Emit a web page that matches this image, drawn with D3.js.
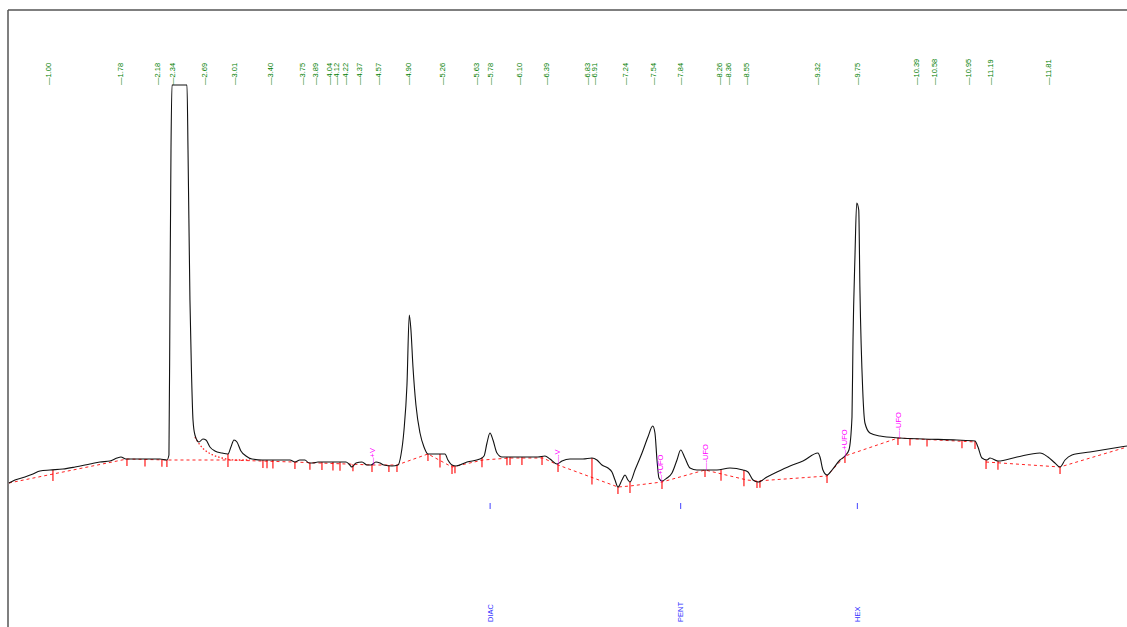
<!DOCTYPE html>
<html>
<head>
<meta charset="utf-8">
<script src="https://cdn.jsdelivr.net/npm/d3@7"></script>
<style>
  html, body { margin: 0; padding: 0; background: #fff; }
  svg { display: block; }
  text { font-family: "Liberation Sans", Arial, sans-serif; }
</style>
</head>
<body>
<svg id="chart" width="1127" height="627"></svg>
<script>
// detector trace, time in minutes / signal in mV
const traceTime = [0.578, 0.643, 0.751, 0.838, 0.914, 1.022, 1.162, 1.292, 1.454, 1.562, 1.670, 1.746, 1.789, 1.843,
  2.103, 2.211, 2.286, 2.308, 2.319, 2.330, 2.341, 2.427, 2.503, 2.514, 2.535, 2.551, 2.568, 2.589, 2.632, 2.676,
  2.708, 2.751, 2.805, 2.881, 2.946, 2.978, 3.011, 3.043, 3.086, 3.141, 3.205, 3.314, 3.616, 3.670, 3.724, 3.778,
  3.822, 3.865, 3.919, 4.103, 4.222, 4.254, 4.286, 4.330, 4.395, 4.449, 4.492, 4.546, 4.589, 4.632, 4.719, 4.784,
  4.816, 4.849, 4.881, 4.906, 4.924, 4.946, 4.978, 5.022, 5.065, 5.108, 5.292, 5.324, 5.368, 5.411, 5.530, 5.670,
  5.714, 5.746, 5.778, 5.811, 5.854, 5.908, 6.103, 6.297, 6.373, 6.427, 6.503, 6.557, 6.643, 6.784, 6.881, 6.935,
  6.989, 7.054, 7.097, 7.130, 7.162, 7.205, 7.238, 7.270, 7.292, 7.346, 7.422, 7.486, 7.538, 7.562, 7.584, 7.605,
  7.638, 7.692, 7.746, 7.800, 7.840, 7.886, 7.941, 8.016, 8.232, 8.373, 8.514, 8.568, 8.622, 8.676, 8.773, 8.881,
  9.022, 9.162, 9.324, 9.346, 9.378, 9.422, 9.476, 9.562, 9.616, 9.659, 9.692, 9.703, 9.724, 9.743, 9.765, 9.778,
  9.808, 9.832, 9.886, 9.995, 10.211, 10.459, 10.827, 11.022, 11.054, 11.097, 11.151, 11.184, 11.270, 11.476,
  11.724, 11.811, 11.886, 11.941, 11.995, 12.070, 12.265, 12.665]
const traceValue = [-3, 0, 3, 6, 9, 10, 11, 13, 16, 18, 19, 22, 23, 21,
  21, 21, 20, 25, 180, 330, 420, 600, 420, 330, 180, 110, 60, 45, 38, 41,
  40, 33, 29, 27, 26, 33, 40, 38, 29, 24, 21, 20, 20, 18, 20, 20,
  17, 17, 18, 18, 18, 16, 13, 17, 18, 15, 15, 18, 17, 15, 14, 15,
  25, 50, 95, 165, 150, 113, 75, 47, 33, 26, 26, 20, 15, 14, 18, 21,
  24, 37, 47, 40, 27, 23, 23, 23, 24, 21, 16, 19, 21, 21, 22, 20,
  15, 12, 8, 0, -7, 0, 5, 0, -2, 10, 27, 43, 54, 47, 20, 2,
  -1, 2, 7, 20, 30, 22, 12, 10, 10, 12, 10, 8, 0, -2, 3, 8,
  14, 19, 27, 23, 10, 5, 10, 20, 24, 30, 63, 140, 223, 277, 270, 190,
  90, 57, 47, 44, 42, 41, 40, 39, 33, 22, 20, 22, 19, 23,
  27, 23, 17, 13, 20, 25, 28, 34]

// integration baseline (two drawn segments) and the tail skim of the solvent peak
const baseTime1 = [0.578, 1.854, 2.292, 2.946, 3.649, 4.514, 4.773, 5.108, 5.368, 5.703, 5.995, 6.351, 6.514,
  7.162, 7.292, 7.638, 8.103, 8.557, 8.665, 9.422, 9.616, 10.189, 11.032]
const baseValue1 = [-3, 21, 20, 20, 18, 15, 15, 26, 13, 20, 22, 22, 15,
  -7, -6, -2, 10, 0, -1, 4, 24, 42, 38]
const baseTime2 = [11.141, 11.941, 12.665]
const baseValue2 = [18, 13, 33]
const skimTime = [2.589, 2.643, 2.708, 2.784, 2.881, 3.022, 3.184]
const skimValue = [43, 35, 29, 25, 22, 20, 20]

// peak start / end markers
const markTimes = [1.054, 1.854, 2.049, 2.232, 2.286, 2.946, 3.324, 3.368, 3.432, 3.670, 3.832, 3.962, 4.081,
  4.157, 4.297, 4.503, 4.686, 4.773, 5.108, 5.238, 5.368, 5.400, 5.692, 5.962, 5.995, 6.124, 6.341, 6.514,
  6.881, 7.162, 7.292, 7.638, 8.103, 8.276, 8.524, 8.665, 8.697, 9.422, 9.616, 10.189, 10.319, 10.503,
  10.881, 11.022, 11.141, 11.270, 11.941]

// retention time labels
const rtLabels = [1.00, 1.78, 2.18, 2.34, 2.69, 3.01, 3.40, 3.75, 3.89, 4.04, 4.12, 4.22, 4.37, 4.57, 4.90, 5.26,
  5.63, 5.78, 6.10, 6.39, 6.83, 6.91, 7.24, 7.54, 7.84, 8.26, 8.36, 8.55, 9.32, 9.75, 10.39, 10.58, 10.95,
  11.19, 11.81]

// integration events
const eventTimes = [4.503, 6.503, 7.616, 8.103, 9.605, 10.189]
const eventNames = ["+V", "-V", "+UFO", "-UFO", "+UFO", "-UFO"]

// named compounds
const compoundTimes = [5.78, 7.84, 9.75]
const compoundNames = ["DIAC", "PENT", "HEX"]

const W = 1127, H = 627
const frameLeft = 8, frameTop = 10, clampTop = 85
const svg = d3.select("#chart")

const x = d3.scaleLinear().domain([0.568, 12.665]).range([frameLeft, W])
const y = d3.scaleLinear().domain([0, 400]).range([480, 80])

// the plotter flattens anything above the label band
const yc = function (v) { return Math.max(clampTop, y(v)) }

const zip = function (ts, vs) { return ts.map((t, i) => ({ t: t, v: vs[i] })) }
const trace = zip(traceTime, traceValue)
const base1 = zip(baseTime1, baseValue1)
const base2 = zip(baseTime2, baseValue2)
const skim = zip(skimTime, skimValue)

const interp = function (pts, t) {
  if (t <= pts[0].t) return pts[0].v
  if (t >= pts[pts.length - 1].t) return pts[pts.length - 1].v
  var i = d3.bisector(d => d.t).right(pts, t)
  var a = pts[i - 1], b = pts[i]
  return a.v + (b.v - a.v) * (t - a.t) / (b.t - a.t)
}
const baseAt = function (t) {
  return t >= base2[0].t ? interp(base2, t) : interp(base1, t)
}

// frame
svg.append("line").attr("x1", frameLeft).attr("x2", W).attr("y1", frameTop).attr("y2", frameTop)
  .attr("stroke", "#555").attr("stroke-width", 1.5)
svg.append("line").attr("x1", frameLeft).attr("x2", frameLeft).attr("y1", frameTop).attr("y2", H)
  .attr("stroke", "#555").attr("stroke-width", 1.5)

// retention times along the top
svg.append("g").selectAll("text").data(rtLabels).join("text")
  .attr("transform", d => `translate(${x(d)},${clampTop}) rotate(-90)`)
  .attr("dy", "0.35em")
  .style("font-size", "7.5px")
  .attr("fill", "#008000")
  .text(d => "\u2014" + d.toFixed(2))

// baselines
const line = d3.line().x(d => x(d.t)).y(d => yc(d.v))
;[base1, base2].forEach(seg => {
  svg.append("path").attr("d", line(seg))
    .attr("fill", "none").attr("stroke", "#f22").attr("stroke-width", 1)
    .attr("stroke-dasharray", "3,3")
})
svg.append("path").attr("d", line.curve(d3.curveMonotoneX)(skim))
  .attr("fill", "none").attr("stroke", "#f22").attr("stroke-width", 1.3)
  .attr("stroke-dasharray", "1.5,2")

// peak markers: from the trace (or baseline) down past the baseline
svg.append("g").selectAll("line").data(markTimes).join("line")
  .attr("x1", d => x(d)).attr("x2", d => x(d))
  .attr("y1", d => Math.min(yc(interp(trace, d)), y(baseAt(d))))
  .attr("y2", d => y(baseAt(d)) + 7)
  .attr("stroke", "#f00").attr("stroke-width", 1.1)

// signal
svg.append("path")
  .attr("d", d3.line().x(d => x(d.t)).y(d => yc(d.v)).curve(d3.curveMonotoneX)(trace))
  .attr("fill", "none").attr("stroke", "#111").attr("stroke-width", 1.1)

// integration events
svg.append("g").selectAll("text").data(eventTimes).join("text")
  .attr("transform", d => `translate(${x(d)},${y(baseAt(d))}) rotate(-90)`)
  .attr("dy", "0.35em")
  .style("font-size", "7.5px")
  .attr("fill", "#f0f")
  .text((d, i) => "\u2014" + eventNames[i])

// compound names at the bottom
const comp = svg.append("g").selectAll("g").data(compoundTimes).join("g")
comp.append("line")
  .attr("x1", d => x(d)).attr("x2", d => x(d)).attr("y1", 503).attr("y2", 509)
  .attr("stroke", "#44f").attr("stroke-width", 1)
comp.append("text")
  .attr("transform", d => `translate(${x(d)},622) rotate(-90)`)
  .attr("dy", "0.35em")
  .style("font-size", "7.5px")
  .attr("fill", "#33f")
  .text((d, i) => compoundNames[i])
</script>
</body>
</html>
